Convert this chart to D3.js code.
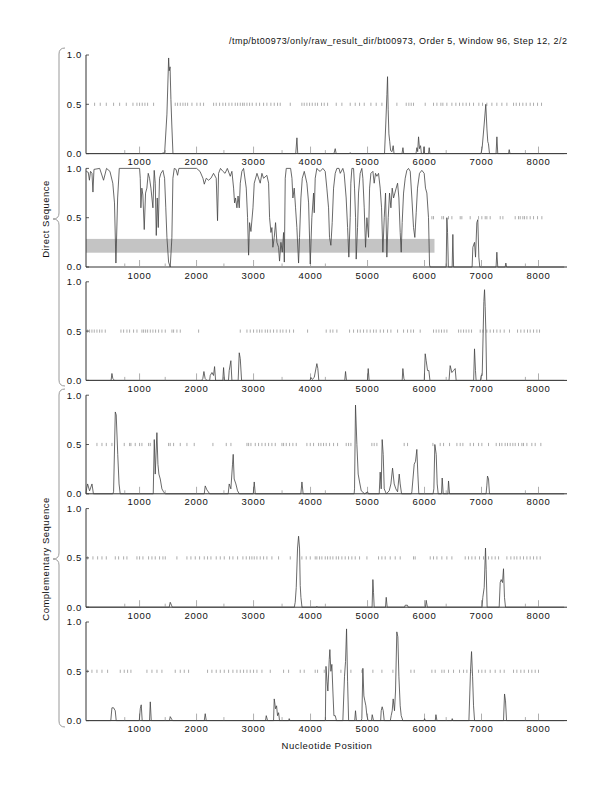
<!DOCTYPE html>
<html>
<head>
  <meta charset="utf-8">
  <title>bt00973 coding potential</title>
  <style type="text/css">
    html, body { margin: 0; padding: 0; background: #fff; }
    svg text { font-family: "Liberation Sans", Helvetica, Arial, sans-serif; fill: #111; }
  </style>
  <script src="https://cdnjs.cloudflare.com/ajax/libs/d3/7.8.5/d3.min.js"></script>
</head>
<body>
  <div id="chart"></div>
  <script>
    var titleText = "/tmp/bt00973/only/raw_result_dir/bt00973, Order 5, Window 96, Step 12, 2/2";
    var xTicks = [1000, 2000, 3000, 4000, 5000, 6000, 7000, 8000];
    var xMinorTicks = [740, 1450, 2480, 3500, 4260, 6380, 7770];
    var yTicks = [0.0, 0.5, 1.0];
    var groupLabels = ["Direct Sequence", "Complementary Sequence"];

    // [nucleotide position, probability]
    var direct1 = [[60, 0], [1380, 0], [1440, 0.01], [1480, 0.4], [1510, 0.97], [1520, 0.84], [1535, 0.88], [1550, 0.55], [1565, 0.3], [1586, 0],
      [3740, 0], [3761, 0.16], [3775, 0], [4410, 0], [4433, 0.05], [4450, 0], [4680, 0], [4696, 0.01], [4710, 0],
      [5298, 0], [5320, 0.3], [5340, 0.6], [5351, 0.78], [5362, 0.45], [5375, 0.2], [5390, 0.12], [5405, 0.03], [5430, 0.02], [5450, 0.08], [5465, 0],
      [5605, 0], [5621, 0.06], [5635, 0], [5850, 0], [5866, 0.06], [5880, 0.02], [5895, 0.17], [5912, 0.05], [5930, 0.08], [5945, 0],
      [5980, 0], [5990, 0.07], [6000, 0], [6070, 0], [6082, 0.06], [6095, 0],
      [6990, 0], [7010, 0.05], [7047, 0.3], [7075, 0.5], [7095, 0.25], [7110, 0.12], [7122, 0.1], [7140, 0],
      [7255, 0], [7270, 0.17], [7285, 0], [7475, 0], [7486, 0.04], [7500, 0], [8450, 0]];

    var direct2 = [[65, 0.97], [100, 0.96], [120, 0.88], [140, 0.97], [165, 0.95], [182, 0.76], [200, 0.99], [300, 1.0], [368, 0.88], [420, 1.0], [480, 0.97],
      [530, 0.85], [560, 0.65], [585, 0.04], [615, 0.7], [644, 1.0], [1000, 1.0], [1012, 0.9], [1023, 0.6], [1040, 0.8], [1058, 0.73], [1082, 0.38],
      [1105, 0.75], [1128, 0.8], [1152, 0.95], [1175, 0.9], [1199, 0.8], [1234, 0.6], [1257, 0.98], [1275, 0.85], [1293, 0.32], [1310, 0.7],
      [1328, 0.4], [1350, 0.9], [1375, 0.95], [1410, 0.98], [1439, 0.9], [1460, 0.6], [1480, 0.3], [1509, 0.05], [1538, 0.0], [1567, 0.3],
      [1585, 0.9], [1609, 1.0], [1640, 0.99], [1667, 0.93], [1690, 1.0], [2000, 1.0], [2060, 0.97], [2112, 0.9], [2136, 0.84], [2170, 0.9],
      [2210, 0.88], [2252, 0.9], [2298, 0.95], [2345, 0.9], [2368, 0.47], [2386, 0.95], [2420, 1.0], [2462, 0.97], [2500, 0.95], [2540, 1.0],
      [2591, 0.92], [2620, 0.97], [2650, 0.8], [2667, 0.65], [2684, 0.7], [2708, 0.6], [2728, 0.72], [2749, 0.6], [2767, 0.85], [2795, 0.97],
      [2825, 1.0], [2872, 0.8], [2895, 0.5], [2913, 0.12], [2930, 0.45], [2954, 0.36], [2990, 0.6], [3012, 0.85], [3060, 0.95], [3117, 0.85],
      [3147, 0.95], [3176, 0.9], [3234, 0.93], [3264, 0.85], [3281, 0.5], [3305, 0.35], [3322, 0.4], [3339, 0.2], [3363, 0.3], [3386, 0.45],
      [3410, 0.25], [3439, 0.2], [3456, 0.06], [3480, 0.25], [3504, 0.15], [3527, 0.35], [3540, 0.05], [3556, 0.9], [3574, 1.0], [3650, 1.0],
      [3674, 0.9], [3690, 0.7], [3714, 0.8], [3737, 0.6], [3760, 0.4], [3790, 0.04], [3807, 0.3], [3831, 0.7], [3855, 0.9], [3890, 0.97],
      [3936, 0.85], [3966, 0.65], [3995, 0.03], [4023, 0.5], [4053, 0.75], [4065, 0.55], [4082, 0.9], [4111, 1.0], [4140, 0.98], [4170, 0.97],
      [4216, 1.0], [4257, 0.97], [4286, 0.8], [4316, 0.6], [4333, 0.3], [4357, 0.22], [4380, 0.45], [4404, 0.8], [4433, 0.95], [4462, 1.0],
      [4500, 1.0], [4521, 0.95], [4567, 1.0], [4590, 0.95], [4625, 0.7], [4650, 0.4], [4672, 0.1], [4696, 0.5], [4707, 0.85], [4725, 1.0],
      [4755, 1.0], [4772, 0.8], [4790, 0.5], [4801, 0.08], [4825, 0.4], [4842, 0.75], [4871, 0.95], [4900, 1.0], [4918, 0.9], [4942, 0.6],
      [4965, 0.2], [4989, 0.5], [5018, 0.3], [5036, 0.8], [5059, 0.95], [5094, 0.97], [5117, 0.85], [5140, 0.95], [5164, 0.92], [5193, 0.95],
      [5222, 0.8], [5246, 0.6], [5269, 0.15], [5293, 0.5], [5316, 0.75], [5339, 0.1], [5363, 0.5], [5386, 0.75], [5410, 0.6], [5433, 0.8],
      [5457, 0.7], [5480, 0.75], [5503, 0.8], [5527, 0.85], [5550, 0.7], [5573, 0.35], [5591, 0.15], [5608, 0.45], [5632, 0.75], [5661, 0.9],
      [5690, 0.98], [5719, 1.0], [5749, 0.97], [5778, 0.7], [5807, 0.4], [5830, 0.3], [5854, 0.55], [5877, 0.8], [5912, 0.95], [5953, 0.98],
      [5994, 0.95], [6017, 0.8], [6041, 0.75], [6070, 0.5], [6088, 0.02], [6099, 0], [6380, 0], [6392, 0.5], [6404, 0.35], [6418, 0],
      [6485, 0], [6497, 0.33], [6510, 0], [6835, 0], [6848, 0.2], [6877, 0.25], [6895, 0.1], [6918, 0.45], [6935, 0.48], [6953, 0.1], [6970, 0],
      [7255, 0], [7269, 0.15], [7285, 0], [7415, 0], [7427, 0.04], [7440, 0], [8450, 0]];

    var direct3 = [[60, 0], [500, 0], [515, 0.07], [530, 0.02], [560, 0], [2090, 0], [2110, 0.02], [2129, 0.09], [2150, 0.02], [2181, 0],
      [2230, 0], [2240, 0.05], [2270, 0.08], [2298, 0.05], [2316, 0.14], [2334, 0], [2460, 0], [2474, 0.13], [2490, 0],
      [2560, 0], [2573, 0.1], [2602, 0.2], [2620, 0], [2730, 0], [2749, 0.28], [2767, 0.22], [2790, 0],
      [3990, 0], [4007, 0.03], [4030, 0.01], [4065, 0.03], [4111, 0.17], [4128, 0.12], [4145, 0],
      [4600, 0], [4614, 0.09], [4630, 0], [5000, 0], [5012, 0.12], [5028, 0], [5608, 0], [5620, 0.12], [5638, 0.02], [5650, 0],
      [5995, 0], [6012, 0.27], [6029, 0.2], [6053, 0.1], [6076, 0.1], [6095, 0],
      [6430, 0], [6450, 0.15], [6480, 0.08], [6509, 0.1], [6538, 0.12], [6555, 0],
      [6862, 0], [6877, 0.32], [6894, 0.1], [6905, 0], [6980, 0], [6994, 0.05], [7012, 0.05], [7041, 0.8], [7053, 0.92], [7064, 0.75],
      [7076, 0.5], [7090, 0], [8450, 0]];

    var comp1 = [[60, 0], [70, 0.05], [88, 0.1], [123, 0.03], [165, 0.1], [190, 0], [530, 0], [544, 0.02], [574, 0.83], [590, 0.8], [617, 0.4],
      [640, 0.1], [660, 0], [1240, 0], [1258, 0.55], [1275, 0.2], [1304, 0.62], [1322, 0.3], [1339, 0.2], [1363, 0.15], [1392, 0.05],
      [1421, 0.02], [1450, 0], [2135, 0], [2152, 0.08], [2181, 0.04], [2230, 0], [2555, 0], [2573, 0.1], [2602, 0.05], [2631, 0.3],
      [2643, 0.4], [2660, 0.15], [2690, 0.1], [2719, 0.03], [2750, 0], [2995, 0], [3012, 0.12], [3030, 0], [3830, 0], [3849, 0.12], [3870, 0],
      [4765, 0], [4772, 0.05], [4789, 0.9], [4813, 0.5], [4836, 0.2], [4860, 0.12], [4890, 0.03], [4950, 0], [5000, 0.02], [5015, 0],
      [5205, 0], [5222, 0.22], [5240, 0.05], [5257, 0.55], [5275, 0.4], [5293, 0.05], [5330, 0], [5380, 0.03], [5410, 0.1], [5439, 0.26],
      [5468, 0.1], [5497, 0.05], [5527, 0.02], [5556, 0.2], [5573, 0.1], [5597, 0], [5770, 0], [5778, 0.02], [5819, 0.3], [5842, 0.33],
      [5865, 0.45], [5883, 0.2], [5900, 0], [6150, 0], [6164, 0.05], [6181, 0.5], [6205, 0.4], [6222, 0.1], [6240, 0],
      [6298, 0], [6310, 0.16], [6328, 0], [6410, 0], [6421, 0.13], [6439, 0], [7080, 0], [7093, 0.08], [7105, 0.18], [7123, 0.15], [7140, 0], [8450, 0]];

    var comp2 = [[60, 0], [1520, 0], [1538, 0.05], [1560, 0.02], [1575, 0], [3715, 0], [3731, 0.05], [3749, 0.2], [3772, 0.6], [3790, 0.72],
      [3807, 0.6], [3819, 0.22], [3831, 0.1], [3850, 0], [4100, 0], [4111, 0.01], [4125, 0],
      [5080, 0], [5094, 0.28], [5105, 0.15], [5117, 0], [5315, 0], [5328, 0.1], [5345, 0], [5650, 0], [5661, 0.02], [5700, 0.02], [5715, 0],
      [6015, 0], [6029, 0.07], [6050, 0], [7010, 0], [7023, 0.1], [7047, 0.2], [7070, 0.6], [7082, 0.38], [7099, 0],
      [7310, 0], [7328, 0.25], [7345, 0.28], [7368, 0.25], [7386, 0.39], [7403, 0.1], [7421, 0], [8450, 0]];

    var comp3 = [[60, 0], [495, 0], [515, 0.13], [544, 0.13], [573, 0.1], [590, 0], [995, 0], [1012, 0.12], [1029, 0.16], [1046, 0],
      [1175, 0], [1188, 0.19], [1205, 0], [1525, 0], [1538, 0.04], [1568, 0.01], [1580, 0], [2135, 0], [2152, 0.07], [2170, 0],
      [3210, 0], [3223, 0.05], [3246, 0], [3351, 0], [3363, 0.22], [3386, 0.12], [3404, 0.15], [3421, 0.05], [3439, 0.08], [3456, 0],
      [3615, 0], [3626, 0.02], [3640, 0], [4260, 0], [4271, 0.55], [4289, 0.4], [4304, 0.3], [4328, 0.62], [4339, 0.72], [4357, 0.5],
      [4374, 0.57], [4392, 0.3], [4410, 0.05], [4433, 0.05], [4455, 0], [4567, 0], [4596, 0.45], [4614, 0.6], [4632, 0.93], [4650, 0.4],
      [4668, 0], [4775, 0], [4789, 0.1], [4805, 0], [4890, 0], [4900, 0.02], [4918, 0.53], [4936, 0.25], [4953, 0.2], [4971, 0.15],
      [4989, 0.05], [5010, 0], [5070, 0], [5082, 0.06], [5105, 0], [5230, 0], [5240, 0.1], [5257, 0.14], [5275, 0.1], [5293, 0],
      [5400, 0], [5415, 0.05], [5433, 0.1], [5450, 0.22], [5473, 0.1], [5491, 0.3], [5514, 0.9], [5532, 0.85], [5550, 0.45], [5573, 0.15],
      [5591, 0.05], [5620, 0], [5990, 0], [6001, 0.02], [6015, 0], [6188, 0], [6200, 0.06], [6218, 0], [6475, 0], [6486, 0.02], [6500, 0],
      [6779, 0], [6807, 0.5], [6825, 0.7], [6843, 0.45], [6860, 0.15], [6878, 0], [7386, 0], [7404, 0.27], [7421, 0.2], [7439, 0], [8450, 0]];

    // stop codon marks drawn at 0.5
    var stops1 = [211, 310, 416, 544, 650, 767, 884, 954, 1000, 1047, 1094, 1141, 1246, 1626, 1667, 1714, 1761, 1802, 1843, 1919, 2006, 2065, 2123,
      2299, 2345, 2404, 2462, 2509, 2568, 2620, 2679, 2720, 2767, 2808, 2837, 2884, 2930, 2977, 3047, 3106, 3176, 3234, 3304, 3363, 3421,
      3468, 3644, 3848, 3889, 3936, 3983, 4030, 4082, 4123, 4193, 4240, 4299, 4451, 4550, 4696, 4784, 4860, 4942, 5059, 5152, 5252, 5515,
      5679, 5725, 5766, 5807, 6012, 6158, 6217, 6287, 6322, 6392, 6480, 6550, 6614, 6673, 6731, 6790, 6860, 6953, 7018, 7094, 7182, 7269,
      7357, 7445, 7562, 7609, 7667, 7725, 7784, 7854, 7913, 7983, 8053];
    var stops2 = [6129, 6158, 6304, 6334, 6421, 6480, 6626, 6655, 6801, 6948, 7006, 7065, 7094, 7152, 7328, 7375, 7591, 7649, 7679, 7725,
      7755, 7796, 7854, 7913, 7983, 8059];
    var stops3 = [88, 123, 164, 205, 252, 299, 340, 398, 673, 720, 778, 825, 895, 954, 1041, 1071, 1106, 1141, 1188, 1234, 1281, 1334, 1392,
      1451, 1568, 1597, 1655, 1714, 2036, 2767, 2884, 2942, 3000, 3059, 3106, 3147, 3205, 3246, 3293, 3351, 3410, 3468, 3515, 3573, 3632,
      3702, 3948, 4275, 4345, 4392, 4462, 4685, 4755, 4825, 4872, 4930, 4989, 5047, 5106, 5152, 5223, 5281, 5351, 5410, 5527, 5632, 5702,
      5760, 5807, 5924, 6158, 6205, 6252, 6298, 6345, 6392, 6597, 6638, 6685, 6731, 6778, 6825, 6977, 7024, 7094, 7152, 7211, 7269, 7328,
      7398, 7491, 7632, 7690, 7749, 7807, 7854, 7913, 7971, 8018];
    var stops4 = [252, 340, 416, 515, 731, 825, 848, 924, 1000, 1041, 1158, 1188, 1509, 1538, 1597, 1714, 1831, 1959, 2287, 2521, 2603, 2884,
      2913, 2954, 3030, 3088, 3147, 3205, 3264, 3322, 3381, 3498, 3527, 3574, 3632, 3690, 3749, 3936, 3995, 4053, 4141, 4182, 4228, 4275,
      4334, 4404, 4474, 4626, 4667, 4708, 5076, 5117, 5164, 5643, 5702, 6147, 6275, 6334, 6439, 6568, 6626, 6673, 6801, 6860, 6948, 7006,
      7123, 7258, 7316, 7357, 7415, 7456, 7503, 7550, 7591, 7649, 7708, 7737, 7796, 7883, 7942, 8041];
    var stops5 = [88, 182, 264, 340, 416, 574, 632, 720, 778, 954, 1000, 1059, 1158, 1217, 1275, 1351, 1410, 1451, 1655, 1831, 1901, 1977,
      2053, 2135, 2193, 2252, 2345, 2416, 2486, 2579, 2638, 2720, 2813, 2872, 2930, 2971, 3012, 3059, 3117, 3176, 3234, 3322, 3439, 3644,
      3848, 3924, 3995, 4082, 4111, 4158, 4199, 4258, 4299, 4345, 4392, 4451, 4492, 4550, 4608, 4667, 4725, 4784, 4860, 4989, 5193, 5252,
      5310, 5398, 5486, 5573, 5807, 5836, 6100, 6158, 6217, 6304, 6392, 6480, 6714, 6772, 6831, 6889, 6965, 7035, 7123, 7182, 7240, 7299,
      7445, 7515, 7573, 7620, 7679, 7737, 7796, 7854, 7913, 7971, 8030];
    var stops6 = [88, 164, 252, 340, 439, 661, 731, 790, 848, 1129, 1217, 1305, 1392, 1626, 1714, 1784, 1860, 2193, 2269, 2345, 2416, 2486,
      2562, 2638, 2708, 2767, 2825, 2884, 2942, 3000, 3059, 3147, 3293, 3527, 3615, 3819, 3889, 4082, 4123, 4240, 4533, 4708, 4901, 5094,
      5252, 5445, 5761, 5819, 6129, 6187, 6304, 6345, 6421, 6509, 6614, 6685, 6743, 6813, 6948, 7006, 7065, 7152, 7240, 7328, 7398, 7562,
      7620, 7690, 7749, 7825, 7883, 7942, 8000];

    // shaded band in the second panel: [start, end, low, high]
    var band2 = [60, 6175, 0.145, 0.285];

    var panels = [
      { line: direct1, stops: stops1 },
      { line: direct2, stops: stops2, band: band2 },
      { line: direct3, stops: stops3 },
      { line: comp1, stops: stops4 },
      { line: comp2, stops: stops5 },
      { line: comp3, stops: stops6 }
    ];

    var W = 612, H = 792;
    var left = 86, right = 567, top0 = 55, panelH = 98.6, step = 113.4;

    var svg = d3.select("#chart").append("svg")
      .attr("width", W).attr("height", H);

    var x = d3.scaleLinear().domain([60, 8500]).range([left, right]);

    svg.append("text")
      .attr("x", right).attr("y", 44)
      .attr("text-anchor", "end")
      .attr("font-size", 9)
      .attr("textLength", 338)
      .attr("lengthAdjust", "spacing")
      .text(titleText);

    panels.forEach(function (p, i) {
      var top = top0 + i * step;
      var y = d3.scaleLinear().domain([0, 1]).range([top + panelH, top]);
      var g = svg.append("g");

      if (p.band) {
        g.append("rect")
          .attr("x", x(p.band[0])).attr("width", x(p.band[1]) - x(p.band[0]))
          .attr("y", y(p.band[3])).attr("height", y(p.band[2]) - y(p.band[3]))
          .attr("fill", "#c4c4c4");
      }

      // stop marks
      g.selectAll(".stop")
        .data(p.stops)
        .join("line")
        .attr("x1", d => x(d)).attr("x2", d => x(d))
        .attr("y1", y(0.5) - 1.6).attr("y2", y(0.5) + 1.6)
        .attr("stroke", "#8a8a8a").attr("stroke-width", 0.7);

      // axes
      g.append("line")
        .attr("x1", left).attr("x2", right).attr("y1", y(0)).attr("y2", y(0))
        .attr("stroke", "#333").attr("stroke-width", 1);
      g.append("line")
        .attr("x1", left).attr("x2", left).attr("y1", y(0)).attr("y2", y(1))
        .attr("stroke", "#333").attr("stroke-width", 1);

      g.selectAll(".xt")
        .data(xTicks)
        .join("line")
        .attr("x1", d => x(d)).attr("x2", d => x(d))
        .attr("y1", y(0)).attr("y2", y(0) - 7)
        .attr("stroke", "#999").attr("stroke-width", 0.8);
      g.selectAll(".xm")
        .data(xMinorTicks)
        .join("line")
        .attr("x1", d => x(d)).attr("x2", d => x(d))
        .attr("y1", y(0)).attr("y2", y(0) - 3.5)
        .attr("stroke", "#999").attr("stroke-width", 0.8);

      g.selectAll(".xl")
        .data(xTicks)
        .join("text")
        .attr("x", d => x(d)).attr("y", y(0) + 11.5)
        .attr("text-anchor", "middle")
        .attr("font-size", 9.5)
        .attr("letter-spacing", 0.7)
        .text(d => d);

      g.selectAll(".yt")
        .data(yTicks)
        .join("line")
        .attr("x1", left).attr("x2", left + 3)
        .attr("y1", d => y(d)).attr("y2", d => y(d))
        .attr("stroke", "#333").attr("stroke-width", 0.8);
      g.selectAll(".yl")
        .data(yTicks)
        .join("text")
        .attr("x", left - 4).attr("y", d => y(d) + 3.4)
        .attr("text-anchor", "end")
        .attr("font-size", 9.5)
        .attr("letter-spacing", 0.7)
        .text(d => d.toFixed(1));

      var line = d3.line().x(d => x(d[0])).y(d => y(d[1]));
      g.append("path")
        .datum(p.line)
        .attr("d", line)
        .attr("fill", "none")
        .attr("stroke", "#444")
        .attr("stroke-width", 0.8);
    });

    // braces with group labels
    var braces = [[48, 386, 219], [389, 727, 559]];
    braces.forEach(function (b, i) {
      var bx = 59, tip = 53, r = 6;
      var d = "M" + (bx + 6) + "," + b[0] +
        " Q" + bx + "," + b[0] + " " + bx + "," + (b[0] + r) +
        " L" + bx + "," + (b[2] - r) +
        " Q" + bx + "," + b[2] + " " + tip + "," + b[2] +
        " Q" + bx + "," + b[2] + " " + bx + "," + (b[2] + r) +
        " L" + bx + "," + (b[1] - r) +
        " Q" + bx + "," + b[1] + " " + (bx + 6) + "," + b[1];
      svg.append("path").attr("d", d)
        .attr("fill", "none").attr("stroke", "#999").attr("stroke-width", 1);
      svg.append("text")
        .attr("transform", "translate(49," + b[2] + ") rotate(-90)")
        .attr("text-anchor", "middle")
        .attr("font-size", 9.5)
        .attr("letter-spacing", 0.5)
        .text(groupLabels[i]);
    });

    svg.append("text")
      .attr("x", 327).attr("y", 749)
      .attr("text-anchor", "middle")
      .attr("font-size", 9.5)
      .attr("letter-spacing", 0.5)
      .text("Nucleotide Position");
  </script>
</body>
</html>
